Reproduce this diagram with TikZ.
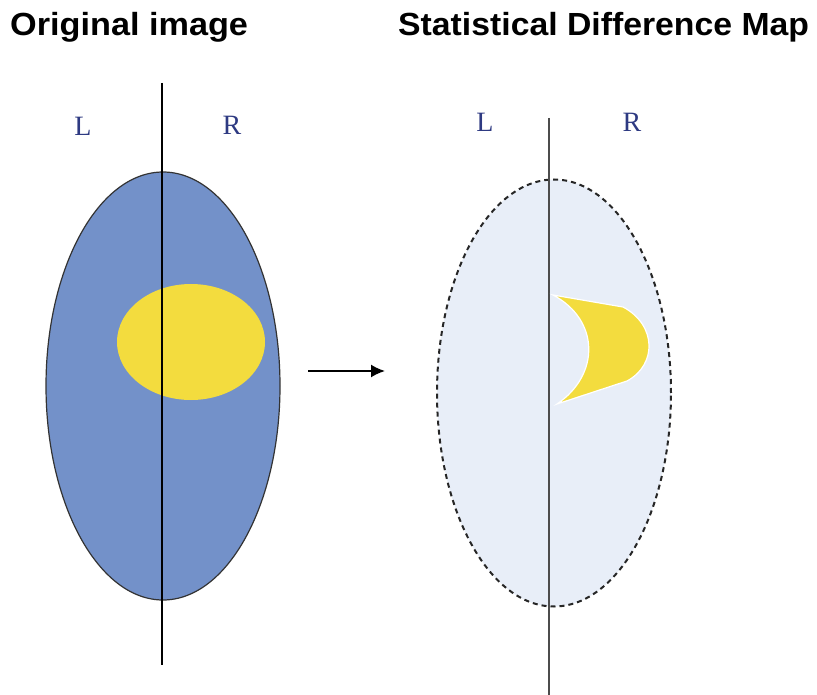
\documentclass[tikz,border=0pt]{standalone}
\usetikzlibrary{shapes.geometric,arrows.meta}
\usepackage{fontspec}
\setmainfont{Liberation Serif}
\newfontfamily\titlefont{Liberation Sans}
\begin{document}
\begin{tikzpicture}[x=1pt,y=-1pt,
  title/.style={font=\titlefont\bfseries\fontsize{32}{38}\selectfont, anchor=west, inner sep=0pt},
  side/.style={font=\fontsize{28}{32}\selectfont, text=lblue, inner sep=0pt},
  axis/.style={line width=1.8pt},
]
\definecolor{lblue}{HTML}{2E3A82}
\definecolor{brainblue}{HTML}{7391C9}
\definecolor{palebg}{HTML}{E8EEF8}
\definecolor{yel}{HTML}{F3DC3E}
\useasboundingbox (0,0) rectangle (817,695);
\fill[white] (0,0) rectangle (817,695);
% titles
\node[title] (t1) at (10,27) {\scalebox{1.07}[1]{Original image}};
\node[title] (t2) at (398,27) {\scalebox{1.055}[1]{Statistical Difference Map}};
% left brain
\node[ellipse,draw=black!80,line width=1.2pt,fill=brainblue,minimum width=234pt,minimum height=428pt,inner sep=0pt] (b1) at (163,386) {};
\node[ellipse,fill=yel,minimum width=148pt,minimum height=116pt,inner sep=0pt] (y1) at (191,342) {};
\coordinate (l1t) at (162,83);
\coordinate (l1b) at (162,665);
\draw[axis,black] (l1t) -- (l1b);
\node[side] (L1) at (83,126) {L};
\node[side] (R1) at (232,125) {R};
% arrow
\coordinate (a1) at (308,371);
\coordinate (a2) at (385,371);
\draw[line width=1.8pt,-{Latex[length=14pt,width=13pt]}] (a1) -- (a2);
% right map
\node[ellipse,draw=black!85,dash pattern=on 5pt off 4pt,line width=2pt,fill=palebg,minimum width=234pt,minimum height=427pt,inner sep=0pt] (b2) at (554,393) {};
\coordinate (l2t) at (549,118);
\coordinate (l2b) at (549,695);
\draw[axis,black!70] (l2t) -- (l2b);
\fill[yel,draw=white,line width=1.2pt] (553,295) -- (623,307) .. controls (657,325) and (657,365) .. (627,381) -- (557,404) .. controls (600,375) and (600,320) .. (553,295) -- cycle;
\node[side] (L2) at (485,122) {L};
\node[side] (R2) at (632,122) {R};
\end{tikzpicture}
\end{document}
